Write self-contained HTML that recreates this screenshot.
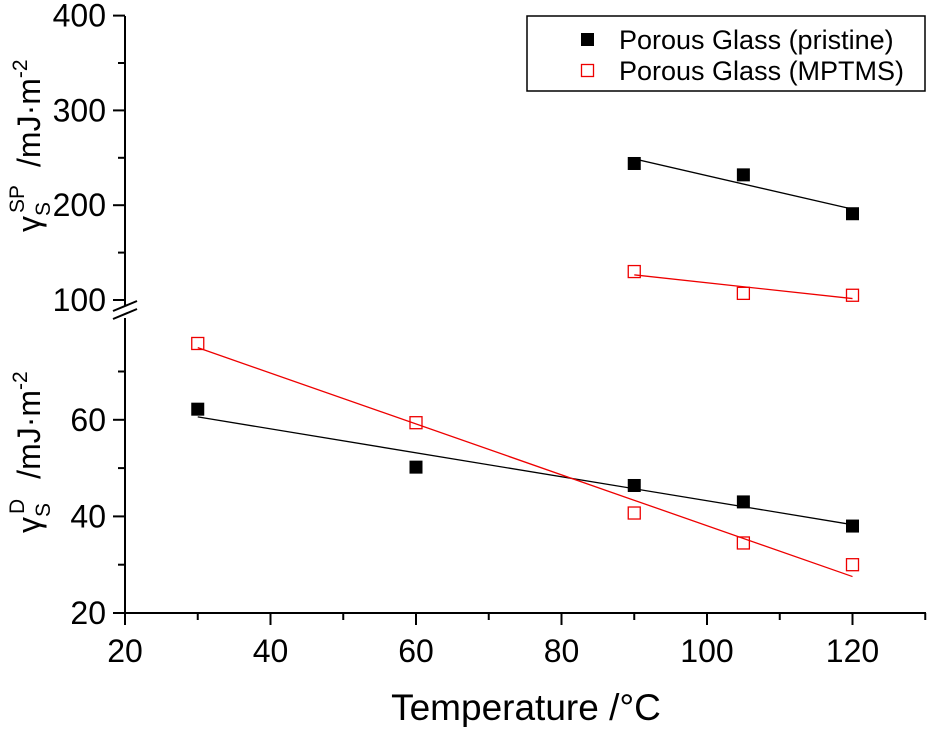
<!DOCTYPE html>
<html><head><meta charset="utf-8"><style>
body{margin:0;background:#fff}
svg{font-family:"Liberation Sans",Arial,sans-serif}
</style></head><body>
<svg id="chart" width="931" height="727" viewBox="0 0 931 727">
<g id="axes"></g>
<g id="marks"></g>
<g>
<rect x="527" y="16" width="398" height="75" fill="#fff" stroke="#000" stroke-width="1.5"/>
<rect x="581" y="33" width="13" height="13" fill="#000"/>
<text x="619" y="49" font-size="27">Porous Glass (pristine)</text>
<rect x="581.5" y="64.5" width="12" height="12" fill="none" stroke="#e00" stroke-width="1.3"/>
<text x="619" y="80" font-size="27">Porous Glass (MPTMS)</text>
</g>
<text x="526" y="720" font-size="37" text-anchor="middle">Temperature /°C</text>
<text transform="translate(40,232) rotate(-90)" font-size="32">γ<tspan font-size="21" dy="10">S</tspan><tspan font-size="21" dx="-11" dy="-26">SP</tspan><tspan dy="16" dx="18">/mJ·m</tspan><tspan font-size="21" dy="-13">-2</tspan></text>
<text transform="translate(40,533) rotate(-90)" font-size="32">γ<tspan font-size="21" dy="10">S</tspan><tspan font-size="21" dx="-11" dy="-26">D</tspan><tspan dy="16" dx="20">/mJ·m</tspan><tspan font-size="21" dy="-13">-2</tspan></text>
</svg>
<script>
const xTicks=[20,40,60,80,100,120];
const lowTicks=[20,40,60];
const upTicks=[100,200,300,400];
const tempsUp=[90,105,120];
const pristineUp=[244,232,191];
const mptmsUp=[130,107,105];
const tempsLow=[30,60,90,105,120];
const pristineLow=[62.2,50.2,46.4,43,38];
const mptmsLow=[75.8,59.4,40.7,34.5,30];
const NS='http://www.w3.org/2000/svg';
const X=v=>125+(v-20)*7.275;
const YL=v=>613-(v-20)*4.83;
const YU=v=>300-(v-100)*0.948;
function mk(p,tag,at){const e=document.createElementNS(NS,tag);for(const k in at)e.setAttribute(k,at[k]);p.appendChild(e);return e;}
const ax=document.getElementById('axes'),mg=document.getElementById('marks');
let e;
e=mk(ax,'line',{x1:125,y1:16,x2:125,y2:306,stroke:'#000','stroke-width':2});

e=mk(ax,'line',{x1:125,y1:318,x2:125,y2:614,stroke:'#000','stroke-width':2});

e=mk(ax,'line',{x1:124,y1:613,x2:926,y2:613,stroke:'#000','stroke-width':2});

[[303],[311]].forEach(([y])=>{e=mk(ax,'line',{x1:113,y1:y+8,x2:137,y2:y-2,stroke:'#000','stroke-width':2});
});
for(let v=20;v<=130;v+=10){const maj=xTicks.includes(v);
e=mk(ax,'line',{x1:X(v),y1:613,x2:X(v),y2:maj?625:620,stroke:'#000','stroke-width':2});
}
xTicks.forEach(v=>{e=mk(ax,'text',{x:X(v),y:662,'font-size':32,'text-anchor':'middle'});e.textContent=v;
});
for(let v=20;v<=70;v+=10){const maj=lowTicks.includes(v);
e=mk(ax,'line',{x1:maj?113:118,y1:YL(v),x2:125,y2:YL(v),stroke:'#000','stroke-width':2});
}
lowTicks.forEach(v=>{e=mk(ax,'text',{x:106,y:YL(v)+11,'font-size':32,'text-anchor':'end'});e.textContent=v;
});
for(let v=100;v<=400;v+=50){const maj=upTicks.includes(v);
e=mk(ax,'line',{x1:maj?113:118,y1:YU(v),x2:125,y2:YU(v),stroke:'#000','stroke-width':2});
}
upTicks.forEach(v=>{e=mk(ax,'text',{x:106,y:YU(v)+11,'font-size':32,'text-anchor':'end'});e.textContent=v;
});
function fit(xs,ys){const n=xs.length,mx=xs.reduce((a,b)=>a+b)/n,my=ys.reduce((a,b)=>a+b)/n;
let sxy=0,sxx=0;xs.forEach((x,i)=>{sxy+=(x-mx)*(ys[i]-my);sxx+=(x-mx)**2});const b=sxy/sxx;return x=>my+b*(x-mx);}
function series(xs,ys,Y,color,filled,name){
const f=fit(xs,ys),x0=xs[0],x1=xs[xs.length-1];
e=mk(mg,'line',{x1:X(x0),y1:Y(f(x0)),x2:X(x1),y2:Y(f(x1)),stroke:color,'stroke-width':1.3});

xs.forEach((x,i)=>{
e=filled?mk(mg,'rect',{x:X(x)-6.5,y:Y(ys[i])-6.5,width:13,height:13,fill:'#000'})
:mk(mg,'rect',{x:X(x)-6,y:Y(ys[i])-6,width:12,height:12,fill:'none',stroke:color,'stroke-width':1.3});
});}
series(tempsUp,pristineUp,YU,'#000',true,'pristine-sp');
series(tempsUp,mptmsUp,YU,'#e00',false,'mptms-sp');
series(tempsLow,pristineLow,YL,'#000',true,'pristine-d');
series(tempsLow,mptmsLow,YL,'#e00',false,'mptms-d');
</script>
</body></html>
